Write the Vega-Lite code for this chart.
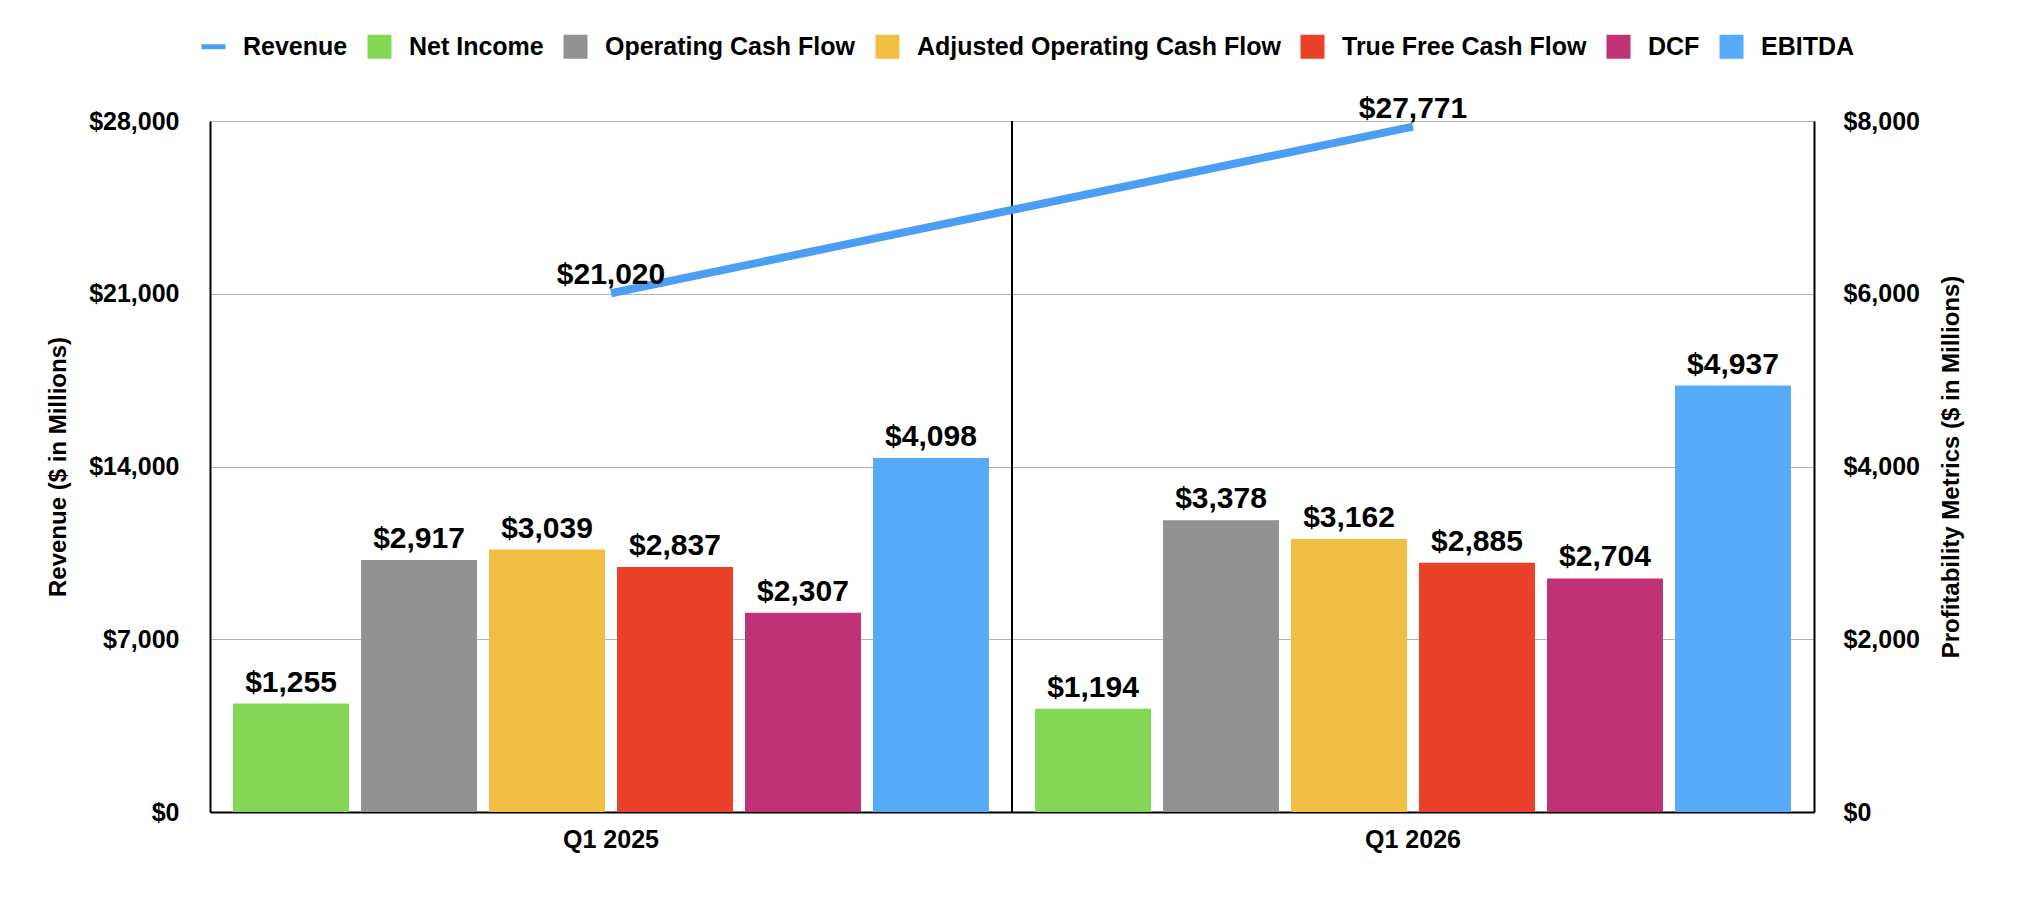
{
  "$schema": "https://vega.github.io/schema/vega-lite/v6.json",
  "width": 1604,
  "height": 691,
  "autosize": {"type": "none"},
  "padding": {"left": 210, "top": 121, "right": 208, "bottom": 98},
  "background": "white",
  "config": {
    "font": "Liberation Sans",
    "view": {"stroke": null},
    "axis": {
      "labelFont": "Liberation Sans",
      "labelFontWeight": "bold",
      "labelFontSize": 25,
      "labelColor": "black",
      "titleFont": "Liberation Sans",
      "titleFontWeight": "bold",
      "titleFontSize": 24,
      "titleColor": "black",
      "ticks": false,
      "domainColor": "black",
      "domainWidth": 2
    }
  },
  "datasets": {
    "bars": [
      {"quarter": "Q1 2025", "series": "Net Income", "value": 1255},
      {"quarter": "Q1 2025", "series": "Operating Cash Flow", "value": 2917},
      {"quarter": "Q1 2025", "series": "Adjusted Operating Cash Flow", "value": 3039},
      {"quarter": "Q1 2025", "series": "True Free Cash Flow", "value": 2837},
      {"quarter": "Q1 2025", "series": "DCF", "value": 2307},
      {"quarter": "Q1 2025", "series": "EBITDA", "value": 4098},
      {"quarter": "Q1 2026", "series": "Net Income", "value": 1194},
      {"quarter": "Q1 2026", "series": "Operating Cash Flow", "value": 3378},
      {"quarter": "Q1 2026", "series": "Adjusted Operating Cash Flow", "value": 3162},
      {"quarter": "Q1 2026", "series": "True Free Cash Flow", "value": 2885},
      {"quarter": "Q1 2026", "series": "DCF", "value": 2704},
      {"quarter": "Q1 2026", "series": "EBITDA", "value": 4937}
    ],
    "rev": [
      {"quarter": "Q1 2025", "series": "Revenue", "value": 21020},
      {"quarter": "Q1 2026", "series": "Revenue", "value": 27771}
    ]
  },
  "encoding": {
    "x": {
      "field": "quarter",
      "type": "nominal",
      "sort": ["Q1 2025", "Q1 2026"],
      "scale": {"paddingInner": 0, "paddingOuter": 0},
      "axis": {"title": null, "labelAngle": 0, "labelPadding": 15, "grid": false}
    }
  },
  "layer": [
    {
      "data": {"name": "bars"},
      "encoding": {
        "y": {
          "field": "value",
          "type": "quantitative",
          "scale": {"domain": [0, 8000], "nice": false},
          "axis": {
            "orient": "right",
            "title": "Profitability Metrics ($ in Millions)",
            "values": [0, 2000, 4000, 6000, 8000],
            "format": "$,.0f",
            "labelPadding": 29,
            "titlePadding": 20,
            "titleAngle": -90,
            "titleBaseline": "top",
            "grid": false
          }
        },
        "xOffset": {
          "field": "series",
          "type": "nominal",
          "sort": ["Net Income", "Operating Cash Flow", "Adjusted Operating Cash Flow", "True Free Cash Flow", "DCF", "EBITDA"],
          "scale": {"paddingInner": 0.094, "paddingOuter": 0.18}
        }
      },
      "layer": [
        {
          "mark": {"type": "bar"},
          "encoding": {
            "color": {
              "field": "series",
              "type": "nominal",
              "scale": {
                "domain": ["Revenue", "Net Income", "Operating Cash Flow", "Adjusted Operating Cash Flow", "True Free Cash Flow", "DCF", "EBITDA"],
                "range": ["#4a9ff5", "#83d754", "#929292", "#f0be42", "#ea4128", "#c13176", "#56abf9"]
              },
              "legend": {
                "title": null,
                "orient": "none",
                "direction": "horizontal",
                "legendX": -9,
                "legendY": -87,
                "padding": 0,
                "symbolSize": 576,
                "symbolType": "square",
                "labelFont": "Liberation Sans",
                "labelFontWeight": "bold",
                "labelFontSize": 25,
                "labelColor": "black",
                "labelOffset": 17,
                "columnPadding": 19,
                "labelLimit": 600,
                "encode": {
                  "symbols": {
                    "update": {
                      "shape": {"signal": "datum.value === 'Revenue' ? 'stroke' : 'square'"},
                      "fill": {"scale": "color", "field": "value"},
                      "stroke": {"scale": "color", "field": "value"},
                      "strokeWidth": {"signal": "datum.value === 'Revenue' ? 5 : 0"},
                      "opacity": {"value": 1},
                      "fillOpacity": {"value": 1}
                    }
                  }
                }
              }
            }
          }
        },
        {
          "mark": {"type": "text", "font": "Liberation Sans", "fontWeight": "bold", "fontSize": 30, "color": "black", "baseline": "alphabetic", "dy": -12},
          "encoding": {
            "text": {"field": "value", "type": "quantitative", "format": "$,.0f"}
          }
        }
      ]
    },
    {
      "data": {"name": "rev"},
      "encoding": {
        "y": {
          "field": "value",
          "type": "quantitative",
          "scale": {"domain": [0, 28000], "nice": false},
          "axis": {
            "orient": "left",
            "title": "Revenue ($ in Millions)",
            "values": [0, 7000, 14000, 21000, 28000],
            "format": "$,.0f",
            "labelPadding": 31,
            "titlePadding": 18,
            "grid": true,
            "gridColor": "#b4b4b4",
            "gridWidth": 1
          }
        }
      },
      "layer": [
        {
          "transform": [{"filter": "datum.quarter === 'Q1 2026'"}],
          "mark": {"type": "rule", "color": "black", "strokeWidth": 2},
          "encoding": {
            "x": {"field": "quarter", "type": "nominal", "bandPosition": 0},
            "y": null
          }
        },
        {
          "mark": {"type": "line", "strokeWidth": 8, "strokeCap": "butt"},
          "encoding": {
            "color": {"field": "series", "type": "nominal"}
          }
        },
        {
          "mark": {"type": "text", "font": "Liberation Sans", "fontWeight": "bold", "fontSize": 30, "color": "black", "baseline": "alphabetic", "dy": -9},
          "encoding": {
            "text": {"field": "value", "type": "quantitative", "format": "$,.0f"}
          }
        }
      ]
    }
  ],
  "resolve": {"scale": {"y": "independent"}}
}
